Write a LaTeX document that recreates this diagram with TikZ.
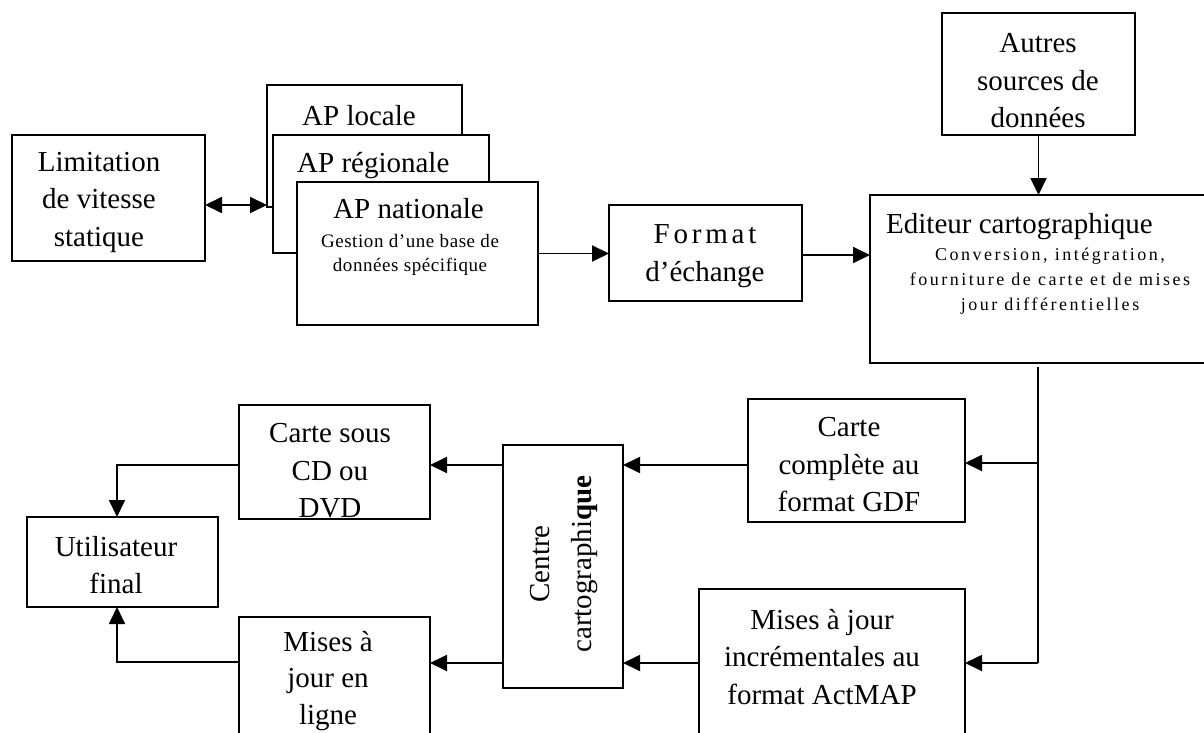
\documentclass[tikz,border=0pt]{standalone}
\usepackage{fontspec}
\setmainfont{Liberation Serif}
\newfontfamily\spacedfont[LetterSpace=13]{Liberation Serif}
\newfontfamily\smallfontA[LetterSpace=3]{Liberation Serif}
\newfontfamily\smallfontB[LetterSpace=14]{Liberation Serif}
\usetikzlibrary{arrows.meta,calc}
\tikzset{
  box/.style={draw, line width=1.8pt, fill=white, rectangle, inner sep=0pt, outer sep=0pt},
  big/.style={font=\fontsize{29}{37.5}\selectfont, align=center, inner sep=0pt},
  subA/.style={font=\smallfontA\fontsize{19}{24}\selectfont, align=center, inner sep=0pt},
  subB/.style={font=\smallfontB\fontsize{18}{25}\selectfont, align=center, inner sep=0pt},
  conn/.style={line width=1.8pt},
  arr/.style={line width=1.8pt, -{Triangle[length=17pt,width=16pt]}},
  dbl/.style={line width=1.8pt, {Triangle[length=17pt,width=16pt]}-{Triangle[length=17pt,width=16pt]}},
}
\begin{document}
\begin{tikzpicture}[x=1pt,y=-1pt]
\useasboundingbox (0,0) rectangle (1204,733);
\clip (0,0) rectangle (1204,733);
\fill[white] (0,0) rectangle (1204,733);

% boxes
\node[box, minimum width=193pt, minimum height=126pt] (lim) at (108.5,198) {};
\node[box, minimum width=195pt, minimum height=122pt] (apl) at (364.5,146) {};
\node[box, minimum width=216pt, minimum height=118pt] (apr) at (381,194) {};
\node[box, minimum width=241pt, minimum height=143pt] (apn) at (417.5,253.5) {};
\node[box, minimum width=193pt, minimum height=96pt] (fmt) at (705.5,253) {};
\node[box, minimum width=193pt, minimum height=122pt] (aut) at (1038.5,74) {};
\node[box, minimum width=335pt, minimum height=168pt] (edi) at (1037.5,279) {};
\node[box, minimum width=217pt, minimum height=123pt] (gdf) at (856.5,460.5) {};
\node[box, minimum width=266pt, minimum height=171pt] (inc) at (832,674.5) {};
\node[box, minimum width=120pt, minimum height=243pt] (ctr) at (563,566.5) {};
\node[box, minimum width=191pt, minimum height=114pt] (cd) at (334.5,462) {};
\node[box, minimum width=191pt, minimum height=90pt] (util) at (122.5,562) {};
\node[box, minimum width=191pt, minimum height=143pt] (enl) at (334.5,688.5) {};

% texts
\node[big] (tlim) at (99,202) {Limitation\\de vitesse\\statique};
\node[big, anchor=base west] (tapl) at (302,126) {AP locale};
\node[big, anchor=base west] (tapr) at (297,172) {AP régionale};
\node[big, anchor=base west] (tapn) at (333,218) {AP nationale};
\node[subA] (sapn) at (410,255) {Gestion d’une base de\\données spécifique};
\node[big] (tfmt) at (705,256) {{\spacedfont Format}\\d’échange};
\node[big] (taut) at (1038,81) {Autres\\sources de\\données};
\node[big, anchor=base west] (tedi) at (886,233) {Editeur cartographique};
\node[subB] (sedi) at (1050,281.5) {Conversion, intégration,\\fourniture de carte et de mises\\jour différentielles};
\node[big] (tgdf) at (849,465) {Carte\\complète au\\format GDF};
\node[big] (tinc) at (822,657) {Mises à jour\\incrémentales au\\format ActMAP};
\node[big] (tcd) at (330,471) {Carte sous\\CD ou\\DVD};
\node[big] (tutil) at (116,565) {Utilisateur\\final};
\node[big, font=\fontsize{29}{36.5}\selectfont] (tenl) at (328,681) {Mises à\\jour en\\ligne};
\node[big, font=\fontsize{29}{42}\selectfont, rotate=90] (tctr) at (564,564) {Centre\\cartographi\textbf{que}};

% connectors
\draw[dbl] (lim.east |- 0,205) -- (apl.west |- 0,205);
\draw[arr] (apn.east) -- (apn.east -| fmt.west);
\draw[arr] (fmt.east |- 0,255) -- (edi.west |- 0,255);
\draw[arr] (aut.south) -- (aut.south |- edi.north);
\coordinate (j1) at (1038,463);
\coordinate (j2) at (1038,663);
\draw[conn] ($(j1 |- edi.south)+(0,4)$) -- (j2);
\draw[arr] (j1) -- (j1 -| gdf.east);
\draw[arr] (j2) -- (j2 -| inc.east);
\draw[arr] (gdf.west |- 0,465) -- (ctr.east |- 0,465);
\draw[arr] (inc.west |- 0,663) -- (ctr.east |- 0,663);
\draw[arr] (ctr.west |- 0,465) -- (cd.east |- 0,465);
\draw[arr] (ctr.west |- 0,663) -- (enl.east |- 0,663);
\draw[arr] (cd.west |- 0,465) -| (util.north -| 117,0);
\draw[arr] (enl.west |- 0,662) -| (util.south -| 117,0);
\end{tikzpicture}
\end{document}
